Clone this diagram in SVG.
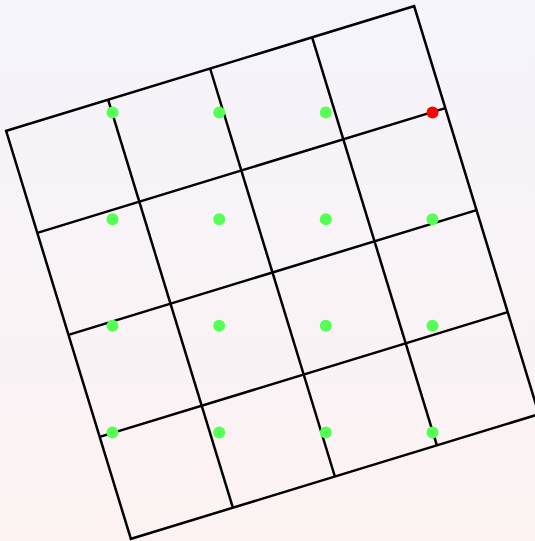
<svg xmlns="http://www.w3.org/2000/svg" width="535" height="541" viewBox="0 0 535 541">
  <defs>
    <linearGradient id="bg" x1="0" y1="0" x2="0" y2="1">
      <stop offset="0" stop-color="#f4f4fa"/>
      <stop offset="1" stop-color="#fcf2f2"/>
    </linearGradient>
    <style>
      .grid line, .grid rect { stroke: #000; stroke-width: 2.5; fill: none; stroke-linecap: butt; stroke-linejoin: miter; }
      .dot { fill: #55ff55; }
      .dot.active { fill: #ff0000; }
    </style>
  </defs>
  <rect width="535" height="541" fill="url(#bg)"/>
  <g id="grid" class="grid" transform="translate(272.5 272.5) rotate(-17)">
    <rect x="-213.33" y="-213.33" width="426.67" height="426.67"/>
    <line x1="-106.67" y1="-213.33" x2="-106.67" y2="213.33"/>
    <line x1="0" y1="-213.33" x2="0" y2="213.33"/>
    <line x1="106.67" y1="-213.33" x2="106.67" y2="213.33"/>
    <line x1="-213.33" y1="-106.67" x2="213.33" y2="-106.67"/>
    <line x1="-213.33" y1="0" x2="213.33" y2="0"/>
    <line x1="-213.33" y1="106.67" x2="213.33" y2="106.67"/>
  </g>
  <g id="dots">
    <g id="dot-0-0"><circle class="dot" cx="112.5" cy="112.5" r="6"/></g>
    <g id="dot-0-1"><circle class="dot" cx="219.2" cy="112.5" r="6"/></g>
    <g id="dot-0-2"><circle class="dot" cx="325.8" cy="112.5" r="6"/></g>
    <g id="dot-0-3"><circle class="dot active" cx="432.5" cy="112.5" r="6"/></g>
    <g id="dot-1-0"><circle class="dot" cx="112.5" cy="219.2" r="6"/></g>
    <g id="dot-1-1"><circle class="dot" cx="219.2" cy="219.2" r="6"/></g>
    <g id="dot-1-2"><circle class="dot" cx="325.8" cy="219.2" r="6"/></g>
    <g id="dot-1-3"><circle class="dot" cx="432.5" cy="219.2" r="6"/></g>
    <g id="dot-2-0"><circle class="dot" cx="112.5" cy="325.8" r="6"/></g>
    <g id="dot-2-1"><circle class="dot" cx="219.2" cy="325.8" r="6"/></g>
    <g id="dot-2-2"><circle class="dot" cx="325.8" cy="325.8" r="6"/></g>
    <g id="dot-2-3"><circle class="dot" cx="432.5" cy="325.8" r="6"/></g>
    <g id="dot-3-0"><circle class="dot" cx="112.5" cy="432.5" r="6"/></g>
    <g id="dot-3-1"><circle class="dot" cx="219.2" cy="432.5" r="6"/></g>
    <g id="dot-3-2"><circle class="dot" cx="325.8" cy="432.5" r="6"/></g>
    <g id="dot-3-3"><circle class="dot" cx="432.5" cy="432.5" r="6"/></g>
  </g>
</svg>
